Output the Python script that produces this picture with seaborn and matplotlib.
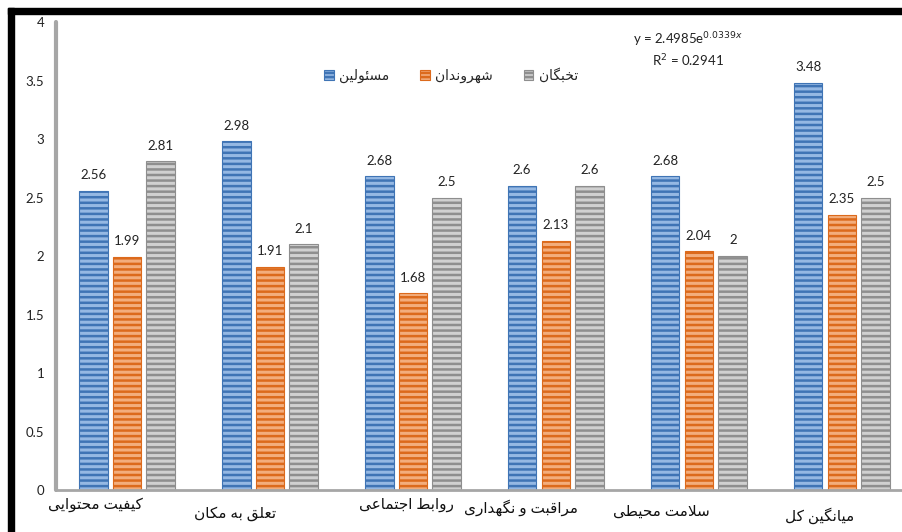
import matplotlib
matplotlib.use('Agg')
import matplotlib.pyplot as plt
import matplotlib.patches as mpatches
import matplotlib.transforms as mtransforms
import seaborn as sns
import pandas as pd

# data
categories = ['کیفیت محتوایی', 'تعلق به مکان', 'روابط اجتماعی',
              'مراقبت و نگهداری', 'سلامت محیطی', 'میانگین کل']
series = ['مسئولین', 'شهروندان', 'تخبگان']
officials = [2.56, 2.98, 2.68, 2.6, 2.68, 3.48]
citizens = [1.99, 1.91, 1.68, 2.13, 2.04, 2.35]
elites = [2.81, 2.1, 2.5, 2.6, 2, 2.5]
yticks = [0, 0.5, 1, 1.5, 2, 2.5, 3, 3.5, 4]
equation = 'y = 2.4985e$^{0.0339x}$'
r_squared = 'R$^2$ = 0.2941'

# colours: light face, dark stripes/edge
light = ['#95b8e3', '#f3ad7c', '#d0d0d0']
dark = ['#3f74b5', '#dc6a1c', '#8e8e8e']

# ---- minimal Persian shaping (matplotlib has no RTL / joining support) ----
FORMS = {  # isolated, final, initial, medial
    'ا': 'ﺍﺎ', 'د': 'ﺩﺪ', 'ر': 'ﺭﺮ', 'و': 'ﻭﻮ',
    'ب': 'ﺏﺐﺑﺒ', 'ت': 'ﺕﺖﺗﺘ', 'ج': 'ﺝﺞﺟﺠ', 'ح': 'ﺡﺢﺣﺤ',
    'خ': 'ﺥﺦﺧﺨ', 'س': 'ﺱﺲﺳﺴ', 'ش': 'ﺵﺶﺷﺸ', 'ط': 'ﻁﻂﻃﻄ',
    'ع': 'ﻉﻊﻋﻌ', 'ف': 'ﻑﻒﻓﻔ', 'ق': 'ﻕﻖﻗﻘ', 'ل': 'ﻝﻞﻟﻠ',
    'م': 'ﻡﻢﻣﻤ', 'ن': 'ﻥﻦﻧﻨ', 'ه': 'ﻩﻪﻫﻬ', 'ئ': 'ﺉﺊﺋﺌ',
    'ک': 'ﮎﮏﮐﮑ', 'گ': 'ﮒﮓﮔﮕ', 'ی': 'ﯼﯽﯾﯿ',
}


def shape(text):
    out = []
    i = 0
    while i < len(text):
        c = text[i]
        if c not in FORMS:
            out.append(c)
            i += 1
            continue
        prev = text[i - 1] if i > 0 else ''
        join_prev = prev in FORMS and len(FORMS[prev]) == 4
        if c == 'ل' and i + 1 < len(text) and text[i + 1] == 'ا':
            out.append('ﻼ' if join_prev else 'ﻻ')
            i += 2
            continue
        nxt = text[i + 1] if i + 1 < len(text) else ''
        join_next = len(FORMS[c]) == 4 and nxt in FORMS
        f = FORMS[c]
        if join_prev and join_next:
            out.append(f[3])
        elif join_prev:
            out.append(f[1])
        elif join_next:
            out.append(f[2])
        else:
            out.append(f[0])
        i += 1
    return ''.join(out)[::-1]


df = pd.DataFrame({
    'category': categories * 3,
    'group': [series[0]] * 6 + [series[1]] * 6 + [series[2]] * 6,
    'value': officials + citizens + elites,
})

sns.set_theme(style='white')
plt.rcParams['font.family'] = ['Lato', 'DejaVu Sans']
plt.rcParams['hatch.linewidth'] = 1.8

fig = plt.figure(figsize=(9.03, 5.32), dpi=100)
ax = fig.add_axes([0.0615, 0.0789, 0.950, 0.8797])

sns.barplot(data=df, x='category', y='value', hue='group', order=categories,
            hue_order=series, palette=light, saturation=1, width=0.71, gap=0.15,
            errorbar=None, legend=False, ax=ax)

for cont, d in zip(ax.containers, dark):
    for bar in cont:
        bar.set_hatch('---')
        bar.set_edgecolor(d)
        bar.set_linewidth(0.8)
    ax.bar_label(cont, labels=[f'{v:g}' for v in cont.datavalues],
                 padding=7, fontsize=9.5, color='#222222')

ax.set_xlim(-0.5, 5.5)
ax.set_ylim(0, 4)
ax.set_yticks(yticks)
ax.set_yticklabels([f'{t:g}' for t in yticks], fontsize=9.5, color='#222222')
ax.tick_params(axis='y', length=0, pad=8)
ax.tick_params(axis='x', length=0, pad=9)
ax.set_xlabel('')
ax.set_ylabel('')

# x labels, shifted like the original
ax.set_xticks(range(len(categories)))
ax.set_xticklabels([shape(c) for c in categories], fontsize=11, color='#111111')
shifts = [(-32, 5), (-35, -4), (-7, 5), (-35, 3), (-38, -2), (-22, -5)]
for lab, (dx, dy) in zip(ax.get_xticklabels(), shifts):
    lab.set_transform(lab.get_transform() +
                      mtransforms.ScaledTranslation(dx / 100, dy / 100, fig.dpi_scale_trans))

for side in ['top', 'right']:
    ax.spines[side].set_visible(False)
ax.spines['left'].set_color('#a6a6a6')
ax.spines['left'].set_linewidth(3)
ax.spines['left'].set_capstyle('round')
ax.spines['bottom'].set_color('#a6a6a6')
ax.spines['bottom'].set_linewidth(2)

# legend
handles = [mpatches.Patch(facecolor=l, edgecolor=d, hatch='----', linewidth=0.8)
           for l, d in zip(light, dark)]
ax.legend(handles, [shape(s) for s in series], ncol=3, frameon=False,
          loc='center', bbox_to_anchor=(451 / 903, 1 - 75 / 532),
          bbox_transform=fig.transFigure, fontsize=10,
          handlelength=0.7, handleheight=0.7, handletextpad=0.4, columnspacing=2.2)

# trendline equation
fig.text(688 / 903, 1 - 40 / 532, equation, ha='center', va='center',
         fontsize=9.5, color='#222222')
fig.text(688 / 903, 1 - 61 / 532, r_squared, ha='center', va='center',
         fontsize=9.5, color='#222222')

# black frame on top and left
fig.add_artist(mpatches.Rectangle((8 / 903, 1 - 14 / 532), 1, 6 / 532,
                                  transform=fig.transFigure, color='black'))
fig.add_artist(mpatches.Rectangle((8 / 903, 0), 6 / 903, 1 - 8 / 532,
                                  transform=fig.transFigure, color='black'))

fig.savefig('out.png', dpi=100)
